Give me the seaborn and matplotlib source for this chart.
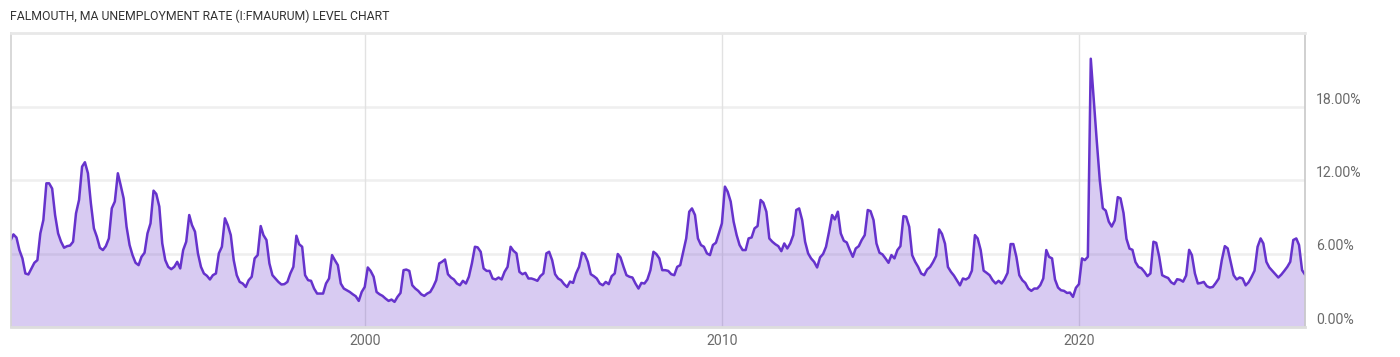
import matplotlib
matplotlib.use("Agg")
import matplotlib.pyplot as plt
import numpy as np
import pandas as pd
import seaborn as sns
from matplotlib import font_manager

# ---- data (monthly unemployment rate, %) ----
rate_1990_1996 = [7.1, 7.56, 7.3, 6.28, 5.6, 4.37, 4.29, 4.78, 5.24, 5.46,
                  7.64, 8.73, 11.73, 11.73, 11.3, 9.14, 7.64, 6.96, 6.47, 6.6,
                  6.65, 6.96, 9.28, 10.37, 13.09, 13.45, 12.55, 10.1, 8.05, 7.37,
                  6.47, 6.28, 6.6, 7.23, 9.69, 10.24, 12.55, 11.6, 10.5, 8.18,
                  6.69, 5.87, 5.24, 5.05, 5.73, 6.06, 7.64, 8.46, 11.13, 10.86,
                  9.83, 6.83, 5.46, 4.91, 4.72, 4.91, 5.32, 4.78, 6.28, 6.96,
                  9.14, 8.32, 7.78, 6.01, 4.91, 4.37, 4.18, 3.88, 4.23, 4.37,
                  6.01, 6.55, 8.87, 8.32, 7.5, 5.46, 4.23, 3.68]
rate_1996_2002 = [3.55, 3.27, 3.82, 4.1, 5.6, 5.87, 8.24, 7.5, 7.1, 5.19,
                  4.23, 3.96, 3.68, 3.47, 3.5, 3.68, 4.37, 4.91, 7.45, 6.76,
                  6.55, 4.23, 3.82, 3.77, 3.14, 2.73, 2.73, 2.73, 3.55, 3.96,
                  5.87, 5.46, 5.05, 3.55, 3.14, 3.0, 2.86, 2.67, 2.51, 2.13,
                  2.86, 3.27, 4.86, 4.58, 4.1, 2.86, 2.67, 2.54, 2.32, 2.13,
                  2.24, 2.05, 2.46, 2.78, 4.64, 4.69, 4.58, 3.41, 3.14, 2.95,
                  2.67, 2.54, 2.73, 2.86, 3.27, 3.82, 5.19, 5.32, 5.51, 4.31,
                  4.04, 3.88, 3.55, 3.41, 3.77, 3.55, 4.1]
rate_2002_2009 = [5.19, 6.55, 6.5, 6.14, 4.78, 4.58, 4.58, 3.96, 3.88, 4.04,
                  3.88, 4.5, 4.91, 6.55, 6.22, 6.01, 4.5, 4.31, 4.42, 3.96,
                  3.96, 3.88, 3.77, 4.15, 4.37, 6.01, 6.14, 5.46, 4.31, 3.96,
                  3.82, 3.5, 3.27, 3.71, 3.6, 4.37, 4.91, 6.06, 5.93, 5.32,
                  4.31, 4.15, 3.96, 3.55, 3.41, 3.68, 3.5, 4.15, 4.37, 5.96,
                  5.68, 4.91, 4.23, 4.1, 4.04, 3.55, 3.14, 3.6, 3.55, 3.88,
                  4.64, 6.14, 5.96, 5.6, 4.64, 4.64, 4.58, 4.31, 4.23, 4.91,
                  5.05, 6.14, 7.23, 9.41, 9.68, 9.14, 7.23, 6.69]
rate_2009_2015 = [6.55, 6.01, 5.87, 6.69, 6.88, 7.64, 8.46, 11.46, 11.05, 10.24,
                  8.6, 7.5, 6.69, 6.28, 6.28, 7.23, 7.31, 8.05, 8.24, 10.37,
                  10.15, 9.41, 7.23, 6.96, 6.76, 6.6, 6.19, 6.82, 6.41, 6.82,
                  7.5, 9.55, 9.68, 8.73, 6.96, 6.01, 5.6, 5.32, 4.86, 5.68,
                  5.96, 6.55, 7.78, 9.14, 8.78, 9.41, 7.64, 7.04, 6.9, 6.28,
                  5.73, 6.41, 6.6, 7.1, 7.5, 9.55, 9.46, 8.73, 6.82, 6.06,
                  5.93, 5.6, 5.24, 5.87, 5.6, 6.28, 6.6, 9.05, 9.0, 8.18,
                  5.87, 5.32, 4.91, 4.37, 4.23, 4.69, 4.91]
rate_2015_2022 = [5.3, 5.8, 7.97, 7.6, 6.8, 4.9, 4.5, 4.2, 3.8, 3.4,
                  3.96, 3.88, 4.04, 4.6, 7.5, 7.23, 6.28, 4.6, 4.42, 4.23,
                  3.82, 3.55, 3.77, 3.55, 3.9, 4.42, 6.77, 6.77, 5.73, 4.23,
                  3.82, 3.6, 3.14, 2.95, 3.14, 3.14, 3.41, 3.96, 6.28, 5.73,
                  5.6, 3.88, 3.22, 3.0, 2.95, 2.78, 2.81, 2.46, 3.2, 3.5,
                  5.6, 5.46, 5.73, 21.9, 18.5, 15.2, 12.0, 9.7, 9.5, 8.6,
                  8.2, 8.7, 10.6, 10.5, 9.3, 7.2, 6.4, 6.3, 5.3, 4.9,
                  4.8, 4.5, 4.15, 4.37, 6.96, 6.87, 5.73, 4.23]
rate_2022_2026 = [4.1, 4.0, 3.65, 3.5, 3.9, 3.85, 3.7, 4.2, 6.3, 5.87,
                  4.37, 3.55, 3.6, 3.68, 3.33, 3.22, 3.27, 3.6, 3.96, 5.46,
                  6.6, 6.42, 5.32, 4.23, 3.88, 4.04, 3.96, 3.4, 3.65, 4.1,
                  4.6, 6.55, 7.23, 6.82, 5.32, 4.86, 4.58, 4.31, 4.04, 4.28,
                  4.58, 4.91, 5.32, 7.1, 7.23, 6.69, 4.64, 4.28]

rate = (rate_1990_1996 + rate_1996_2002 + rate_2002_2009 +
        rate_2009_2015 + rate_2015_2022 + rate_2022_2026)
first_month = "1990-01-31"
dates = pd.date_range(first_month, periods=len(rate), freq="ME")
df = pd.DataFrame({"date": dates, "rate": rate})

year_ticks = ["2000", "2010", "2020"]
y_ticks = [0, 6, 12, 18]
y_tick_labels = ["0.00%", "6.00%", "12.00%", "18.00%"]
title = "FALMOUTH, MA UNEMPLOYMENT RATE (I:FMAURUM) LEVEL CHART"

# ---- style ----
sns.set_theme(style="white")
names = {f.name for f in font_manager.fontManager.ttflist}
if "Liberation Sans Narrow" in names:
    fam = ["Liberation Sans Narrow", "DejaVu Sans"]
    title_size, tick_size = 10.2, 11.3
else:
    fam = ["Roboto", "DejaVu Sans"]
    title_size, tick_size = 8.8, 10.2
plt.rcParams["font.family"] = fam

LINE = "#6633cc"

fig = plt.figure(figsize=(14, 3.57), dpi=100)
ax = fig.add_axes([10.7 / 1400, 1 - 327 / 357, (1305 - 10.7) / 1400, (327 - 33) / 357])

# grid first (below the fill)
for yv in y_ticks[1:]:
    ax.axhline(yv, color="#efefef", lw=1.8, zorder=0)
for yr in year_ticks:
    ax.axvline(pd.Timestamp(yr + "-01-01"), color="#e2e2e2", lw=1, zorder=0)

ax.fill_between(df["date"], df["rate"], 0, color=LINE, alpha=0.25, lw=0, zorder=1)
sns.lineplot(data=df, x="date", y="rate", ax=ax, color=LINE, lw=1.8, zorder=2)

ax.set_xlim(dates[0], dates[-1])
ax.set_ylim(0, 24)
ax.set_xlabel("")
ax.set_ylabel("")

ax.set_xticks([pd.Timestamp(y + "-01-01") for y in year_ticks])
ax.set_xticklabels(year_ticks)
ax.set_yticks(y_ticks)
ax.set_yticklabels(y_tick_labels)
ax.yaxis.tick_right()
ax.tick_params(axis="y", which="both", length=0, pad=8, labelsize=tick_size,
               labelcolor="#6b6b6b", labelright=True, labelleft=False)
ax.tick_params(axis="x", length=0, pad=5, labelsize=tick_size, labelcolor="#6b6b6b")
for lab in ax.get_yticklabels():
    lab.set_verticalalignment("bottom")
ax.grid(False)

for side, col, w in [("left", "#d2d2d2", 1.2), ("right", "#c8c8c8", 1.2),
                     ("top", "#e8e8e8", 2.0), ("bottom", "#dddddd", 2.0)]:
    ax.spines[side].set_visible(True)
    ax.spines[side].set_color(col)
    ax.spines[side].set_linewidth(w)

fig.text(10 / 1400, 1 - 16 / 357, title, ha="left", va="center",
         fontsize=title_size, color="#333333")

fig.savefig("out.png", dpi=100)
